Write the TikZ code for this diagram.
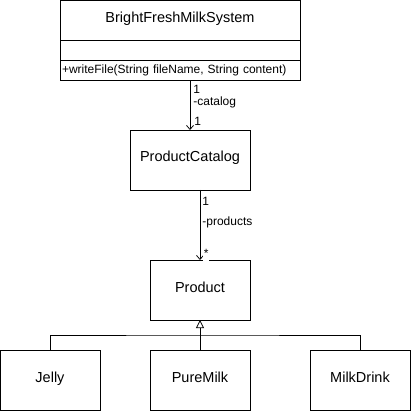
\documentclass[tikz,border=0pt]{standalone}
\usepackage{fontspec}
\setmainfont{Liberation Sans}
\usetikzlibrary{positioning,arrows.meta}
\tikzset{every picture/.style={line width=0.75pt}}
\tikzset{
  cls/.style={draw, fill=white, inner sep=0pt, outer sep=0pt, minimum width=100pt, minimum height=60pt,
              text height=8pt, text depth=4pt, font=\fontsize{14.5}{16}\selectfont},
  lbl/.style={inner sep=0pt, anchor=base west, font=\fontsize{12}{14}\selectfont},
  endlbl/.style={lbl, fill=white, inner xsep=0.5pt, text depth=4.5pt},
  assoc/.style={-{Straight Barb[length=4pt,width=7pt]}},
  inherit/.style={-{Triangle[open,length=8pt,width=8pt]}}
}

\begin{document}
\begin{tikzpicture}[x=1pt,y=-1pt]
  \useasboundingbox (0,0) rectangle (411,411);
  % the system class
  \node[cls, minimum width=240pt, minimum height=40pt] (sys) at (180,20.5) {BrightFreshMilkSystem};
  \node[cls, minimum width=240pt, minimum height=20pt, below=0pt of sys] (sysattr) {};
  \node[cls, minimum width=240pt, minimum height=20pt, text width=236pt, inner xsep=2pt, align=left,
        text height=9pt, text depth=3pt, font=\fontsize{12}{14}\selectfont, below=0pt of sysattr] (sysops) {+writeFile(String fileName, String content)};

  \node[cls, minimum width=120pt] (catalog) at (190,160) {ProductCatalog};
  \node[cls] (product) at (200,290) {Product};
  \node[cls] (jelly) at (50,380) {Jelly};
  \node[cls] (puremilk) at (200,380) {PureMilk};
  \node[cls] (milkdrink) at (360,380) {MilkDrink};

  % associations
  \draw[assoc] (sysops.south -| catalog.north) -- (catalog.north);
  \draw[assoc] (catalog.south -| product.north) -- (product.north);

  \node[lbl] (sysmult) at (193,94) {1};
  \node[lbl] (catrole) at (193,105.5) {-catalog};
  \node[endlbl] (catmult) at (193.5,125.5) {1};
  \node[lbl] (catsrc) at (202,206) {1};
  \node[lbl] (prodrole) at (202,225.5) {-products};
  \node[endlbl] (prodmult) at (203,257) {*};

  % generalisation
  \coordinate (fork) at (200,335);
  \draw (jelly.north) |- (fork) -| (milkdrink.north);
  \draw[inherit] (puremilk.north) -- (product.south);
\end{tikzpicture}
\end{document}
